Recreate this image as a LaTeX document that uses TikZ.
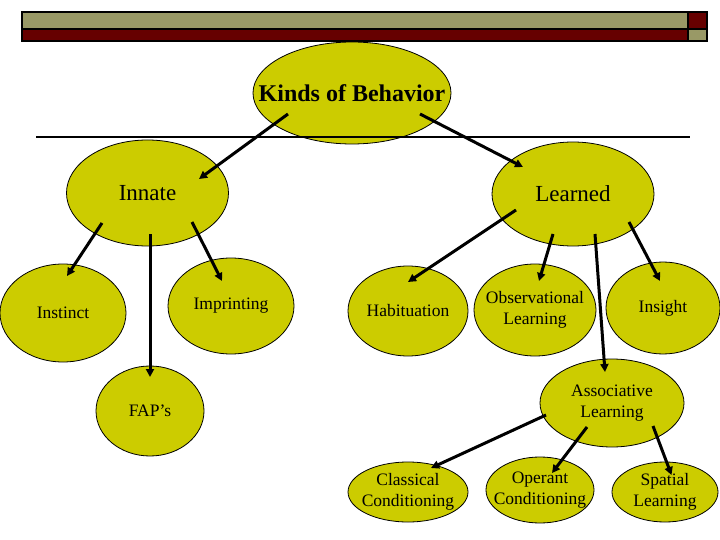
\documentclass[tikz,border=0pt]{standalone}
\usepackage{fontspec}
\setmainfont{Liberation Serif}
\usepackage{tikz}
\usetikzlibrary{arrows.meta,shapes.geometric}
\definecolor{olivefill}{HTML}{CCCC00}
\definecolor{khaki}{HTML}{999966}
\definecolor{maroonbar}{HTML}{660000}

\begin{document}
\begin{tikzpicture}[x=1pt,y=-1pt,>={Triangle[length=8pt,width=8pt]},
  blob/.style={ellipse,draw=black,line width=0.8pt,fill=olivefill,inner sep=0pt},
  small/.style={font=\fontsize{17.5}{21}\selectfont,align=center,inner sep=0pt},
  big/.style={font=\fontsize{23}{26}\selectfont,inner sep=0pt},
  title/.style={font=\fontsize{24}{26}\selectfont\bfseries,inner sep=0pt},
  link/.style={->,line width=3pt}]
  \useasboundingbox (0,0) rectangle (720,540);
  % title bar
  \draw[line width=1.5pt,fill=khaki] (22,12) rectangle (688,29);
  \draw[line width=1.5pt,fill=maroonbar] (688,12) rectangle (707,29);
  \draw[line width=1.5pt,fill=maroonbar] (22,29) rectangle (688,41);
  \draw[line width=1.5pt,fill=khaki] (688,29) rectangle (707,41);
  % nodes
  \node[blob,minimum width=198,minimum height=102,label={[title]center:Kinds of Behavior}] (kinds) at (352,93) {};
  \node[blob,minimum width=162,minimum height=106,label={[big]center:Innate}] (innate) at (147.5,193) {};
  \node[blob,minimum width=162,minimum height=104,label={[big]center:Learned}] (learned) at (573,194) {};
  \node[blob,minimum width=126,minimum height=98,label={[small]center:Instinct}] (instinct) at (63,313) {};
  \node[blob,minimum width=126,minimum height=96,label={[small]center:Imprinting}] (imprint) at (231,306) {};
  \node[blob,minimum width=108,minimum height=90,label={[small]center:FAP’s}] (fap) at (150,411) {};
  \node[blob,minimum width=120,minimum height=90,label={[small]center:Habituation}] (habit) at (408,311) {};
  \node[blob,minimum width=122,minimum height=92,label={[small]center:{Observational\\Learning}}] (observ) at (535,310) {};
  \node[blob,minimum width=114,minimum height=92,label={[small]center:Insight}] (insight) at (663,308) {};
  \node[blob,minimum width=144,minimum height=88,label={[small]center:{Associative\\Learning}}] (assoc) at (612,403) {};
  \node[blob,minimum width=120,minimum height=60,label={[small]center:{Classical\\Conditioning}}] (classical) at (408,492) {};
  \node[blob,minimum width=108,minimum height=66,label={[small]center:{Operant\\Conditioning}}] (operant) at (540,490) {};
  \node[blob,minimum width=106,minimum height=60,label={[small]center:{Spatial\\Learning}}] (spatial) at (665,492) {};
  \draw[line width=1.5pt] (36,137) -- (690,137);
  % arrows
  \draw[link] ([shift={(-64,21)}]kinds.center) -- ([shift={(51.5,-14)}]innate.center);
  \draw[link] ([shift={(68,21)}]kinds.center) -- ([shift={(-50,-27)}]learned.center);
  \draw[link] ([shift={(-45.5,30)}]innate.center) -- ([shift={(4,-37)}]instinct.center);
  \draw[link] ([shift={(2.5,41)}]innate.center) -- ([shift={(0,-34)}]fap.center);
  \draw[link] ([shift={(44.5,29)}]innate.center) -- ([shift={(-9,-25)}]imprint.center);
  \draw[link] ([shift={(-57,16)}]learned.center) -- ([shift={(0,-29)}]habit.center);
  \draw[link] ([shift={(-20,40)}]learned.center) -- ([shift={(4,-29)}]observ.center);
  \draw[link] ([shift={(22,40)}]learned.center) -- ([shift={(-7,-31)}]assoc.center);
  \draw[link] ([shift={(56,28)}]learned.center) -- ([shift={(-3,-27)}]insight.center);
  \draw[link] ([shift={(-66,12)}]assoc.center) -- ([shift={(23,-24)}]classical.center);
  \draw[link] ([shift={(-25,24)}]assoc.center) -- ([shift={(12,-17)}]operant.center);
  \draw[link] ([shift={(41,23)}]assoc.center) -- ([shift={(6.5,-17)}]spatial.center);
\end{tikzpicture}
\end{document}
